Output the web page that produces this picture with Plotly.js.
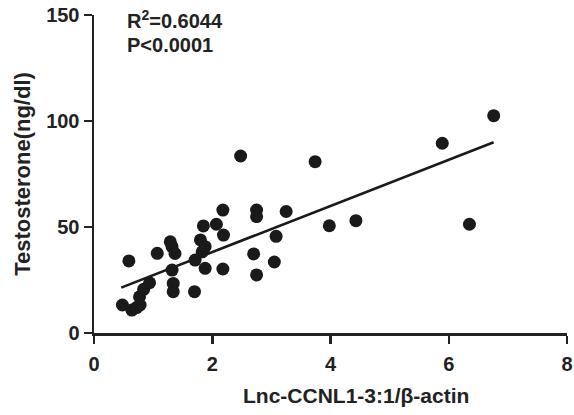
<!DOCTYPE html>
<html>
<head>
<meta charset="utf-8">
<script src="https://cdn.plot.ly/plotly-3.0.1.min.js"></script>
<style>html,body{margin:0;padding:0;background:#fff;}#chart{width:574px;height:415px;}</style>
</head>
<body>
<div id="chart"></div>
<script>
// Lnc-CCNL1-3:1/β-actin (x) vs Testosterone ng/dl (y)
var lncValues = [0.48, 0.64, 0.72, 0.78, 0.77, 0.84, 0.94, 0.59, 1.07, 1.29, 1.32, 1.37,
                 1.32, 1.34, 1.34, 1.70, 1.71, 1.80, 1.88, 1.83, 1.85, 1.88, 2.07, 2.18,
                 2.19, 2.18, 2.48, 2.75, 2.75, 2.70, 2.75, 3.05, 3.08, 3.25, 3.74, 3.98,
                 4.43, 5.89, 6.35, 6.76];
var testosterone = [13.2, 10.8, 12.0, 13.2, 17.1, 20.6, 23.7, 34.0, 37.6, 43.0, 40.7, 37.5,
                    29.7, 23.4, 19.5, 19.5, 34.4, 43.9, 40.7, 38.3, 50.5, 30.5, 51.3, 58.0,
                    46.2, 30.2, 83.5, 58.0, 54.9, 37.3, 27.4, 33.5, 45.6, 57.3, 80.8, 50.6,
                    53.0, 89.5, 51.3, 102.5];
// regression line endpoints
var fitX = [0.46, 6.76];
var fitY = [21.4, 90.0];
var xTicks = [0, 2, 4, 6, 8];
var yTicks = [0, 50, 100, 150];
var statLines = ["R<sup>2</sup>=0.6044", "P<0.0001"];
var xTitle = "Lnc-CCNL1-3:1/β-actin";
var yTitle = "Testosterone(ng/dl)";

var font = "Liberation Sans, Arial, sans-serif";
var ink = "#222";
var traces = [
  {x: lncValues, y: testosterone, type: "scatter", mode: "markers",
   marker: {color: "#1a1a1a", size: 13}, cliponaxis: false, hoverinfo: "x+y"},
  {x: fitX, y: fitY, type: "scatter", mode: "lines",
   line: {color: "#1a1a1a", width: 2.6}, hoverinfo: "skip"}
];
var layout = {
  width: 574, height: 415,
  margin: {l: 93.5, r: 6.5, t: 15, b: 82},
  showlegend: false,
  paper_bgcolor: "#fff", plot_bgcolor: "#fff",
  font: {family: font, color: ink, size: 18},
  xaxis: {
    range: [0, 8], tickvals: xTicks, ticktext: xTicks.map(String),
    showgrid: false, zeroline: false, showline: true, linecolor: ink, linewidth: 2.5,
    ticks: "outside", ticklen: 8, tickwidth: 2.5, tickcolor: ink,
    tickfont: {family: font, size: 20, color: ink, weight: "bold"},
    ticklabelstandoff: 3
  },
  yaxis: {
    range: [0, 150], tickvals: yTicks, ticktext: yTicks.map(String),
    showgrid: false, zeroline: false, showline: true, linecolor: ink, linewidth: 2.5,
    ticks: "outside", ticklen: 8, tickwidth: 2.5, tickcolor: ink,
    tickfont: {family: font, size: 20, color: ink, weight: "bold"},
    title: {text: "<b>" + yTitle + "</b>", font: {family: font, size: 22, color: ink}, standoff: 10}
  },
  annotations: [
    {xref: "paper", yref: "paper", x: 0.553, y: -0.198, xanchor: "center", yanchor: "middle",
     text: "<b>" + xTitle + "</b>", showarrow: false, font: {family: font, size: 21, color: ink}},
    {xref: "paper", yref: "paper", x: 0.066, y: 0.985, xanchor: "left", yanchor: "middle",
     text: "<b>" + statLines[0] + "</b>", showarrow: false, font: {family: font, size: 20, color: ink}},
    {xref: "paper", yref: "paper", x: 0.066, y: 0.905, xanchor: "left", yanchor: "middle",
     text: "<b>" + statLines[1] + "</b>", showarrow: false, font: {family: font, size: 20, color: ink}}
  ]
};
Plotly.newPlot("chart", traces, layout, {displayModeBar: false, staticPlot: true});
</script>
</body>
</html>
